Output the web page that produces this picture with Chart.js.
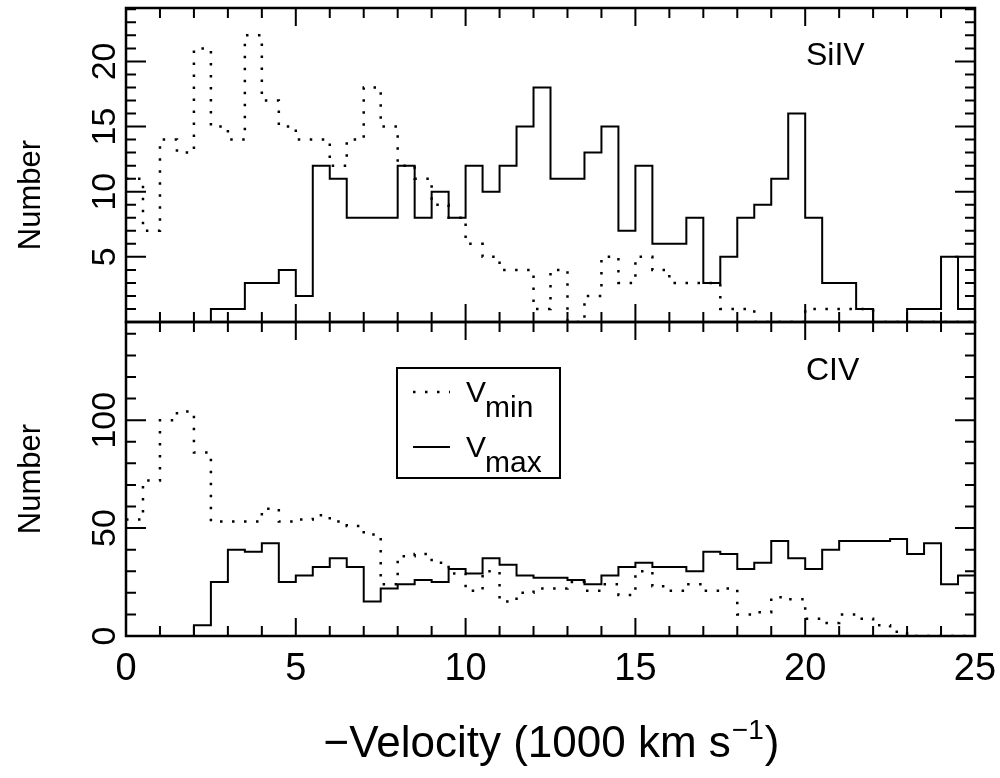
<!DOCTYPE html>
<html>
<head>
<meta charset="utf-8">
<script src="https://cdn.jsdelivr.net/npm/chart.js@4.4.0/dist/chart.umd.min.js"></script>
<style>
  body { margin: 0; background: #fff; }
  #wrap { position: relative; width: 1000px; height: 778px; }
  canvas { position: absolute; left: 0; }
</style>
</head>
<body>
<div id="wrap">
  <canvas id="top" width="1000" height="330" style="top:0px"></canvas>
  <canvas id="bottom" width="1000" height="464" style="top:314px"></canvas>
</div>
<script>
// bin edges, 1000 km/s
const binEdges = [0,0.5,1,1.5,2,2.5,3,3.5,4,4.5,5,5.5,6,6.5,7,7.5,8,8.5,9,9.5,
  10,10.5,11,11.5,12,12.5,13,13.5,14,14.5,15,15.5,16,16.5,17,17.5,18,18.5,19,19.5,
  20,20.5,21,21.5,22,22.5,23,23.5,24,24.5,25];

// SiIV counts per bin
const siivMin = [11,7,14,13,21,15,14,22,17,15, 14,14,12,14,18,15,12,11,9,8,
  6,5,4,4,1,4,0,2,5,3, 5,4,3,3,3,1,1,0,0,0, 1,1,1,1,0,0,0,0,0,0];
const siivMax = [0,0,0,0,0,1,1,3,3,4, 2,12,11,8,8,8,12,8,10,8,
  12,10,12,15,18,11,11,13,15,7, 12,6,6,8,3,5,8,9,11,16, 8,3,3,1,0,0,1,1,5,1];

// CIV counts per bin
const civMin = [54,72,100,104,85,53,53,53,59,53, 54,56,53,51,47,24,37,38,34,29,
  21,30,16,20,22,22,25,21,24,19, 30,23,21,24,21,22,10,11,18,17, 8,6,10,8,5,2,0,0,0,0];
const civMax = [0,0,0,0,5,25,40,39,43,25, 28,32,36,32,16,22,24,26,25,31,
  29,36,33,28,27,27,26,24,28,32, 34,32,32,30,39,38,31,34,44,36, 31,40,44,44,44,45,38,43,24,28];

// ticks
const xTicks = [0,1,2,3,4,5,6,7,8,9,10,11,12,13,14,15,16,17,18,19,20,21,22,23,24,25];
const xMajor = [0,5,10,15,20,25];
const xLabels = [0,5,10,15,20,25];
const siivTicks = [1,2,3,4,5,6,7,8,9,10,11,12,13,14,15,16,17,18,19,20,21,22,23,24];
const siivMajor = [5,10,15,20];
const siivLabels = [5,10,15,20];
const civTicks = [10,20,30,40,50,60,70,80,90,100,110,120,130,140];
const civMajor = [50,100];
const civLabels = [0,50,100];

const FONT = '"Liberation Sans", Arial, sans-serif';

function steps(values) {
  const pts = values.map((v, i) => ({x: binEdges[i], y: v}));
  pts.push({x: binEdges[values.length], y: values[values.length - 1]});
  return pts;
}

function datasets(minVals, maxVals) {
  return [
    {label: 'min', data: steps(minVals), stepped: true, borderColor: '#000',
     borderWidth: 2.5, borderDash: [2.5, 9.5], pointRadius: 0, fill: false},
    {label: 'max', data: steps(maxVals), stepped: true, borderColor: '#000',
     borderWidth: 2, pointRadius: 0, fill: false}
  ];
}

function framePlugin(cfg) {
  return {
    id: 'frame',
    afterDraw(chart) {
      const ctx = chart.ctx;
      const a = chart.chartArea;
      const x = chart.scales.x, y = chart.scales.y;
      ctx.save();
      ctx.strokeStyle = '#000';
      ctx.fillStyle = '#000';
      ctx.lineWidth = 2.5;
      ctx.strokeRect(a.left, a.top, a.right - a.left, a.bottom - a.top);

      ctx.lineWidth = 2;
      ctx.beginPath();
      xTicks.forEach(v => {
        const px = x.getPixelForValue(v);
        const len = xMajor.includes(v) ? 18 : 10;
        ctx.moveTo(px, a.bottom); ctx.lineTo(px, a.bottom - len);
        ctx.moveTo(px, a.top); ctx.lineTo(px, a.top + len);
      });
      cfg.yTicks.forEach(v => {
        const py = y.getPixelForValue(v);
        const len = cfg.yMajor.includes(v) ? 20 : 10;
        ctx.moveTo(a.left, py); ctx.lineTo(a.left + len, py);
        ctx.moveTo(a.right, py); ctx.lineTo(a.right - len, py);
      });
      ctx.stroke();

      // rotated y tick labels
      ctx.font = '34px ' + FONT;
      ctx.textAlign = 'center';
      ctx.textBaseline = 'alphabetic';
      cfg.yLabels.forEach(v => {
        ctx.save();
        ctx.translate(a.left - 11, y.getPixelForValue(v));
        ctx.rotate(-Math.PI / 2);
        ctx.fillText(String(v), 0, 0);
        ctx.restore();
      });

      // y axis title
      ctx.save();
      ctx.font = '31px ' + FONT;
      ctx.translate(40, (a.top + a.bottom) / 2 + cfg.titleDy);
      ctx.rotate(-Math.PI / 2);
      ctx.fillText('Number', 0, 0);
      ctx.restore();

      // ion name
      ctx.font = '32px ' + FONT;
      ctx.textAlign = 'left';
      ctx.fillText(cfg.ion, a.left + 680, a.top + cfg.ionDy);

      if (cfg.bottom) {
        ctx.font = '38px ' + FONT;
        ctx.textAlign = 'center';
        xLabels.forEach(v => {
          ctx.fillText(String(v), x.getPixelForValue(v), a.bottom + 44);
        });

        // x axis title with superscript
        const base = a.bottom + 121;
        const t1 = '\u2212Velocity (1000 km s', t2 = '\u22121', t3 = ')';
        ctx.font = '44px ' + FONT;
        const w1 = ctx.measureText(t1).width, w3 = ctx.measureText(t3).width;
        ctx.font = '28px ' + FONT;
        const w2 = ctx.measureText(t2).width;
        let sx = (a.left + a.right) / 2 - (w1 + w2 + w3) / 2;
        ctx.textAlign = 'left';
        ctx.font = '44px ' + FONT;
        ctx.fillText(t1, sx, base);
        ctx.font = '28px ' + FONT;
        ctx.fillText(t2, sx + w1 + 1, base - 18);
        ctx.font = '44px ' + FONT;
        ctx.fillText(t3, sx + w1 + w2 + 2, base);

        // legend
        const bx = a.left + 271, by = a.top + 46, bw = 163, bh = 110;
        ctx.lineWidth = 2;
        ctx.strokeRect(bx, by, bw, bh);
        chart.data.datasets.forEach((ds, i) => {
          const ly = by + 24 + i * 55;
          ctx.save();
          ctx.lineWidth = ds.borderWidth;
          ctx.setLineDash(ds.borderDash || []);
          ctx.beginPath();
          ctx.moveTo(bx + 16, ly);
          ctx.lineTo(bx + 53, ly);
          ctx.stroke();
          ctx.restore();
          ctx.font = '30px ' + FONT;
          ctx.textAlign = 'left';
          ctx.fillText('V', bx + 69, ly + 10);
          ctx.fillText(ds.label, bx + 88, ly + 25);
        });
      }
      ctx.restore();
    }
  };
}

function makeChart(id, minVals, maxVals, ymax, pad, cfg) {
  return new Chart(document.getElementById(id), {
    type: 'line',
    data: {datasets: datasets(minVals, maxVals)},
    options: {
      responsive: false,
      animation: false,
      devicePixelRatio: 1,
      layout: {padding: pad},
      plugins: {legend: {display: false}, tooltip: {enabled: false}},
      scales: {
        x: {type: 'linear', min: 0, max: 25, display: false},
        y: {type: 'linear', min: 0, max: ymax, display: false}
      }
    },
    plugins: [framePlugin(cfg)]
  });
}

makeChart('top', siivMin, siivMax, 24.1,
  {left: 126, right: 25, top: 8, bottom: 8},
  {yTicks: siivTicks, yMajor: siivMajor, yLabels: siivLabels, ion: 'SiIV', ionDy: 57,
   titleDy: 30, bottom: false});

makeChart('bottom', civMin, civMax, 145.5,
  {left: 126, right: 25, top: 8, bottom: 142},
  {yTicks: civTicks, yMajor: civMajor, yLabels: civLabels, ion: 'CIV', ionDy: 58,
   titleDy: 0, bottom: true});
</script>
</body>
</html>
